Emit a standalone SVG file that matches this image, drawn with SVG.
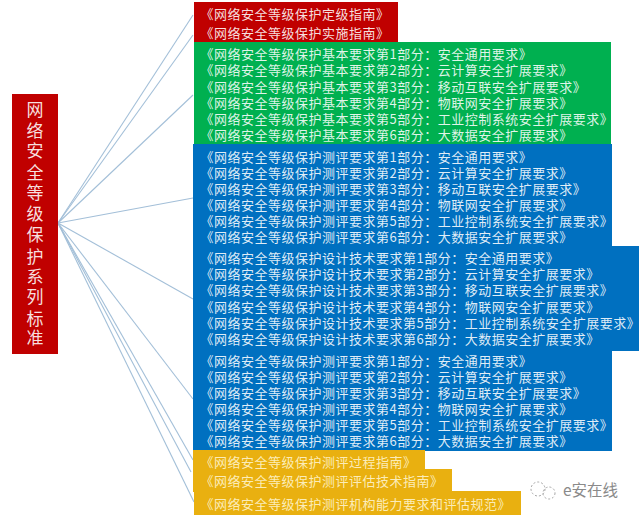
<svg xmlns="http://www.w3.org/2000/svg" width="640" height="518" viewBox="0 0 640 518">
<style>
text{font-family:"Noto Sans CJK SC","Liberation Sans",sans-serif;font-size:13px;letter-spacing:.5px;fill:#fff;fill-opacity:.88}
.t{font-size:17px;letter-spacing:0;text-anchor:middle}
.y{fill:#fdf0c4;fill-opacity:.95}
.c line{stroke:#a3bfd8;stroke-width:1.1}
.w{fill:#8a8a8a;fill-opacity:1;font-size:15.5px;letter-spacing:0}
</style>
<rect width="640" height="518" fill="#fff"/>
<g id="connectors" class="c">
<line x1="58" y1="223" x2="193" y2="15"/>
<line x1="58" y1="223" x2="193" y2="35"/>
<line x1="58" y1="223" x2="193" y2="95"/>
<line x1="58" y1="223" x2="193" y2="198"/>
<line x1="58" y1="223" x2="193" y2="299"/>
<line x1="58" y1="223" x2="193" y2="399"/>
<line x1="58" y1="223" x2="193" y2="460"/>
<line x1="58" y1="223" x2="191" y2="472"/>
<line x1="58" y1="223" x2="194" y2="502"/>
</g>
<g id="root">
<rect x="12" y="94" width="46" height="260" fill="#c00000"/>
<text class="t"><tspan x="35" y="116">网</tspan><tspan x="35" y="137">络</tspan><tspan x="35" y="157">安</tspan><tspan x="35" y="179">全</tspan><tspan x="35" y="199">等</tspan><tspan x="35" y="220">级</tspan><tspan x="35" y="241">保</tspan><tspan x="35" y="263">护</tspan><tspan x="35" y="283">系</tspan><tspan x="35" y="303">列</tspan><tspan x="35" y="325">标</tspan><tspan x="35" y="344">准</tspan></text>
</g>
<g id="guides">
<rect x="194" y="2" width="204" height="40" fill="#c00000"/>
<text><tspan x="200.5" y="19">《网络安全等级保护定级指南》</tspan><tspan x="200.5" y="38">《网络安全等级保护实施指南》</tspan></text>
</g>
<g id="basic">
<rect x="194" y="42" width="417" height="102" fill="#00b050"/>
<text><tspan x="200.5" y="59">《网络安全等级保护基本要求第1部分：安全通用要求》</tspan><tspan x="200.5" y="75">《网络安全等级保护基本要求第2部分：云计算安全扩展要求》</tspan><tspan x="200.5" y="91.5">《网络安全等级保护基本要求第3部分：移动互联安全扩展要求》</tspan><tspan x="200.5" y="107.5">《网络安全等级保护基本要求第4部分：物联网安全扩展要求》</tspan><tspan x="200.5" y="123.5">《网络安全等级保护基本要求第5部分：工业控制系统安全扩展要求》</tspan><tspan x="200.5" y="140">《网络安全等级保护基本要求第6部分：大数据安全扩展要求》</tspan></text>
</g>
<g id="eval">
<rect x="193" y="144" width="419" height="102" fill="#0070c0"/>
<text><tspan x="200.5" y="162">《网络安全等级保护测评要求第1部分：安全通用要求》</tspan><tspan x="200.5" y="178">《网络安全等级保护测评要求第2部分：云计算安全扩展要求》</tspan><tspan x="200.5" y="194">《网络安全等级保护测评要求第3部分：移动互联安全扩展要求》</tspan><tspan x="200.5" y="210">《网络安全等级保护测评要求第4部分：物联网安全扩展要求》</tspan><tspan x="200.5" y="226">《网络安全等级保护测评要求第5部分：工业控制系统安全扩展要求》</tspan><tspan x="200.5" y="242">《网络安全等级保护测评要求第6部分：大数据安全扩展要求》</tspan></text>
</g>
<g id="design">
<rect x="193" y="246" width="446" height="105" fill="#0070c0"/>
<text><tspan x="200.5" y="263">《网络安全等级保护设计技术要求第1部分：安全通用要求》</tspan><tspan x="200.5" y="279">《网络安全等级保护设计技术要求第2部分：云计算安全扩展要求》</tspan><tspan x="200.5" y="295">《网络安全等级保护设计技术要求第3部分：移动互联安全扩展要求》</tspan><tspan x="200.5" y="311.5">《网络安全等级保护设计技术要求第4部分：物联网安全扩展要求》</tspan><tspan x="200.5" y="328">《网络安全等级保护设计技术要求第5部分：工业控制系统安全扩展要求》</tspan><tspan x="200.5" y="344">《网络安全等级保护设计技术要求第6部分：大数据安全扩展要求》</tspan></text>
</g>
<g id="interconnect">
<rect x="193" y="351" width="419" height="100" fill="#0070c0"/>
<text><tspan x="200.5" y="366">《网络安全等级保护测评要求第1部分：安全通用要求》</tspan><tspan x="200.5" y="382">《网络安全等级保护测评要求第2部分：云计算安全扩展要求》</tspan><tspan x="200.5" y="398">《网络安全等级保护测评要求第3部分：移动互联安全扩展要求》</tspan><tspan x="200.5" y="414">《网络安全等级保护测评要求第4部分：物联网安全扩展要求》</tspan><tspan x="200.5" y="430">《网络安全等级保护测评要求第5部分：工业控制系统安全扩展要求》</tspan><tspan x="200.5" y="446">《网络安全等级保护测评要求第6部分：大数据安全扩展要求》</tspan></text>
</g>
<g id="process">
<rect x="193" y="450" width="232" height="20" fill="#e9b010"/>
<text class="y" x="200.5" y="467">《网络安全等级保护测评过程指南》</text>
</g>
<g id="assess">
<rect x="193" y="469" width="259" height="23" fill="#e9b010"/>
<text class="y" x="200.5" y="486">《网络安全等级保护测评评估技术指南》</text>
</g>
<g id="agency">
<rect x="194" y="491" width="327" height="24" fill="#e9b010"/>
<text class="y" x="200.5" y="509">《网络安全等级保护测评机构能力要求和评估规范》</text>
</g>
<g id="watermark">
<circle cx="538" cy="489" r="7" fill="none" stroke="#a5a5a5" stroke-width="1" stroke-dasharray="2 2"/>
<circle cx="549" cy="493" r="6" fill="none" stroke="#a5a5a5" stroke-width="1" stroke-dasharray="2 2"/>
<text class="w" x="563" y="496">e安在线</text>
</g>
</svg>
